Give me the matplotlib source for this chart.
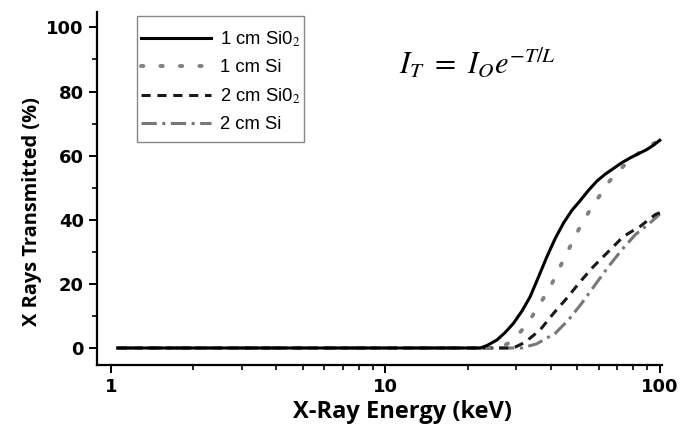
import matplotlib
matplotlib.use("Agg")
import matplotlib.pyplot as plt
from matplotlib.patches import Rectangle
from matplotlib.ticker import FixedLocator, NullFormatter

plt.rcParams['mathtext.fontset'] = 'stix'

# 1 cm SiO2 (solid)
e_sio2_1 = [1.06, 5, 10, 15, 20, 22.2, 23.5, 25.5, 27.3, 29.3, 31.5, 33.7, 36.2, 38.8, 41.6,
            44.6, 47.8, 51.3, 55, 58.9, 63.2, 67.8, 72.7, 78, 83.6, 89.7, 95, 100]
t_sio2_1 = [0, 0, 0, 0, 0, 0, 0.8, 2.5, 4.8, 7.7, 11.6, 16, 22.3, 28.5, 34.2,
            39, 42.9, 46, 49.2, 52, 54.2, 56, 57.8, 59.3, 60.6, 61.9, 63.3, 64.8]

# 1 cm Si (dotted)
e_si_1 = [1.06, 5, 10, 15, 20, 26, 28.1, 30.3, 32.7, 36.6, 40.4, 44, 47.8, 52.4, 58.1, 65.5,
          70.8, 76.9, 82.5, 88, 94, 100]
t_si_1 = [0, 0, 0, 0, 0, 0, 1.5, 4, 7.2, 13.7, 20, 26.5, 32.7, 39.5, 45.4, 52,
          55.3, 58.2, 60.4, 62.1, 63.6, 64.8]

# 2 cm SiO2 (dashed)
e_sio2_2 = [1.06, 5, 10, 20, 29.3, 32.3, 36.6, 41, 45.8, 51.3, 57.3, 65, 73.7, 84.7, 96.2, 100]
t_sio2_2 = [0, 0, 0, 0, 0, 1.8, 5.6, 10.8, 15.5, 20.7, 25.4, 30.1, 34.8, 37.9, 41.6, 42.2]

# 2 cm Si (dash-dot)
e_si_2 = [1.06, 5, 10, 20, 31.4, 35.6, 41.6, 46.5, 52, 58.1, 65, 72.7, 81.3, 93.5, 100]
t_si_2 = [0, 0, 0, 0, 0, 1.3, 4.6, 8.75, 14, 19.7, 25.4, 30.6, 35.3, 39.5, 41.8]

x_ticks = [1, 10, 100]
y_ticks = [0, 20, 40, 60, 80, 100]

fig = plt.figure(figsize=(6.81, 4.37), dpi=100)
ax = fig.add_axes([0.1424, 0.1648, 0.8296, 0.8077])

ax.plot(e_si_2, t_si_2, color='#777777', lw=2.2, dashes=(5, 1.8, 1, 1.8), label='2 cm Si', zorder=2)
ax.plot(e_sio2_2, t_sio2_2, color='#1a1a1a', lw=2.2, dashes=(3, 2.2), label='2 cm Si0$_2$', zorder=3)
ax.plot(e_si_1, t_si_1, color='#808080', lw=2.8, dashes=(0.6, 4.4), dash_capstyle='round',
        label='1 cm Si', zorder=4)
ax.plot(e_sio2_1, t_sio2_1, color='black', lw=2.2, label='1 cm Si0$_2$', zorder=5)

ax.set_xscale('log')
ax.set_xlim(0.89, 101.8)
ax.set_ylim(-5.3, 104.8)

ax.xaxis.set_major_locator(FixedLocator(x_ticks))
ax.xaxis.set_minor_locator(FixedLocator([m * d for d in (1, 10) for m in range(2, 10)]))
ax.xaxis.set_minor_formatter(NullFormatter())
ax.set_xticklabels([str(v) for v in x_ticks])
ax.yaxis.set_major_locator(FixedLocator(y_ticks))
ax.yaxis.set_minor_locator(FixedLocator([10, 30, 50, 70, 90]))

for s in ['top', 'right']:
    ax.spines[s].set_visible(False)
for s in ['left', 'bottom']:
    ax.spines[s].set_linewidth(1.6)

ax.tick_params(which='major', direction='out', length=6, width=1.4)
ax.tick_params(which='minor', direction='out', length=3.5, width=1.2)
for lab in ax.get_xticklabels() + ax.get_yticklabels():
    lab.set_fontfamily('DejaVu Sans')
    lab.set_fontweight('bold')
    lab.set_fontsize(13)

ax.set_xlabel('X-Ray Energy (keV)', fontfamily='Open Sans', fontweight='bold', fontsize=17)
ax.xaxis.set_label_coords(0.54, -0.10)
ax.set_ylabel('X Rays Transmitted (%)', fontfamily='Open Sans', fontweight='bold', fontsize=14.4)
ax.yaxis.set_label_coords(-0.097, 0.436)

ax.text(0.673, 0.858, r'$I_T\ =\ I_O e^{-T/L}$', transform=ax.transAxes, ha='center', va='center',
        fontsize=22)

h, l = ax.get_legend_handles_labels()
order = [3, 2, 1, 0]
leg = ax.legend([h[i] for i in order], [l[i] for i in order], loc='upper left',
                bbox_to_anchor=(0.075, 0.955), borderaxespad=0, frameon=False,
                handlelength=3.8, handletextpad=0.45, labelspacing=0.55, borderpad=0.1,
                prop={'family': 'Liberation Sans', 'size': 13.3})

# legend frame: tight at the sides, roomier at top and bottom
fig.canvas.draw()
bb = leg.get_window_extent()
W, H = fig.bbox.width, fig.bbox.height
x0, x1 = bb.x0 - 2, bb.x1 + 2
y0, y1 = bb.y0 - 7, bb.y1 + 12
fig.add_artist(Rectangle((x0 / W, y0 / H), (x1 - x0) / W, (y1 - y0) / H, transform=fig.transFigure,
                         fill=False, edgecolor='#888888', lw=1.0))

fig.savefig('out.png', dpi=100)
